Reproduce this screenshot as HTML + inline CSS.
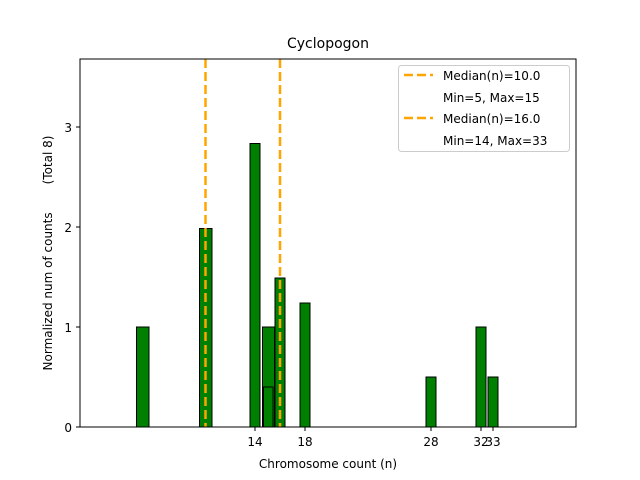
<!DOCTYPE html>
<html><head><style>body{margin:0;background:#fff}svg{display:block}text{font-family:"DejaVu Sans","Liberation Sans",sans-serif;fill:#000}</style></head><body>
<svg width="640" height="480" xmlns="http://www.w3.org/2000/svg">
<rect width="640" height="480" fill="#fff"/>
<g fill="#008000" stroke="#000" stroke-width="1">
<rect x="136.5" y="327" width="12.5" height="100"/>
<rect x="199.5" y="228.5" width="12.5" height="198.5"/>
<rect x="250" y="143.5" width="10" height="283.5"/>
<rect x="262.5" y="327" width="12" height="100"/>
<rect x="263.5" y="387" width="9.5" height="40"/>
<rect x="275" y="278" width="10" height="149"/>
<rect x="300" y="303" width="10" height="124"/>
<rect x="426" y="377" width="10" height="50"/>
<rect x="476" y="327" width="10" height="100"/>
<rect x="488" y="377" width="10" height="50"/>
</g>
<g stroke="#FFA500" stroke-width="2.5" stroke-dasharray="9,4" fill="none">
<line x1="205.5" y1="59" x2="205.5" y2="427"/>
<line x1="280" y1="59" x2="280" y2="427"/>
</g>
<rect x="80" y="59" width="496" height="368" fill="none" stroke="#000" stroke-width="1"/>
<g stroke="#000">
<line x1="80" y1="427" x2="76" y2="427"/><line x1="80" y1="327" x2="76" y2="327"/><line x1="80" y1="227" x2="76" y2="227"/><line x1="80" y1="127" x2="76" y2="127"/>
<line x1="255" y1="427" x2="255" y2="431"/><line x1="305" y1="427" x2="305" y2="431"/><line x1="431" y1="427" x2="431" y2="431"/><line x1="481" y1="427" x2="481" y2="431"/><line x1="493" y1="427" x2="493" y2="431"/>
</g>
<g font-size="12" text-anchor="middle">
<text x="255" y="446">14</text><text x="305" y="446">18</text><text x="431" y="446">28</text><text x="481" y="446">32</text><text x="493" y="446">33</text>
<text x="328" y="468">Chromosome count (n)</text>
<text x="328" y="48" font-size="14">Cyclopogon</text>
</g>
<g font-size="12" text-anchor="end">
<text x="72" y="432">0</text><text x="72" y="332">1</text><text x="72" y="232">2</text><text x="72" y="132">3</text>
</g>
<text font-size="12" text-anchor="middle" transform="translate(52,253) rotate(-90)">Normalized num of counts<tspan dx="28">(Total 8)</tspan></text>
<rect x="398.5" y="65.5" width="171" height="86" rx="3" fill="#fff" stroke="#ccc"/>
<g stroke="#FFA500" stroke-width="2.5" stroke-dasharray="9,4"><line x1="404" y1="75" x2="433" y2="75"/><line x1="404" y1="118" x2="433" y2="118"/></g>
<g font-size="12">
<text x="443" y="80">Median(n)=10.0</text><text x="443" y="102">Min=5, Max=15</text>
<text x="443" y="123">Median(n)=16.0</text><text x="443" y="145">Min=14, Max=33</text>
</g>
</svg>
</body></html>
